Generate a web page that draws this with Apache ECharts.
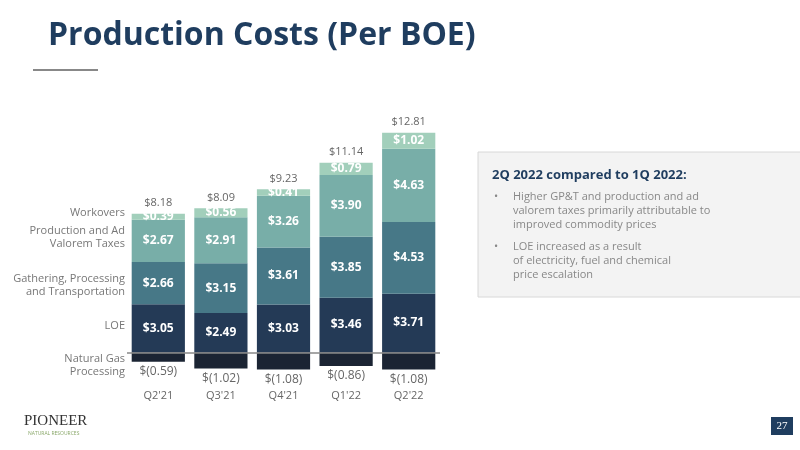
<!DOCTYPE html><html><head><meta charset="utf-8"><script src="https://cdn.jsdelivr.net/npm/echarts@6/dist/echarts.min.js"></script>
<style>html,body{margin:0;padding:0;background:#fff}#c{width:800px;height:450px}</style></head><body><div id="c"></div><script>
const categories=["Q2'21","Q3'21","Q4'21","Q1'22","Q2'22"];
const gasProc=[-0.59,-1.02,-1.08,-0.86,-1.08];
const loe=[3.05,2.49,3.03,3.46,3.71];
const gpt=[2.66,3.15,3.61,3.85,4.53];
const taxes=[2.67,2.91,3.26,3.90,4.63];
const workovers=[0.39,0.56,0.41,0.79,1.02];
const totals=["$8.18","$8.09","$9.23","$11.14","$12.81"];
const F='"Open Sans", sans-serif';
const inLbl={show:true,color:'#fff',fontFamily:F,fontWeight:'bold',fontSize:12,formatter:p=>'$'+p.value.toFixed(2)};
function s(name,data,color,label){return {name,type:'bar',stack:'a',data,barCategoryGap:'15%',itemStyle:{color},label,labelLayout:{hideOverlap:false},emphasis:{disabled:true}};}
const ch=echarts.init(document.getElementById('c'));
const series=[
 s('Natural Gas Processing',gasProc,'#1b2433',{show:true,position:'bottom',distance:4,color:'#666',fontFamily:F,fontSize:12,formatter:p=>'$('+Math.abs(p.value).toFixed(2)+')'}),
 s('LOE',loe,'#243a56',inLbl),
 s('Gathering',gpt,'#477887',inLbl),
 s('Taxes',taxes,'#78aea8',inLbl),
 s('Workovers',workovers,'#a2cfbb',Object.assign({},inLbl,{position:'inside'}))
];
series.push({type:'bar',stack:'a',data:workovers.map(()=>0),itemStyle:{color:'transparent'},
 label:{show:true,position:'top',distance:5,color:'#666',fontFamily:F,fontSize:11,formatter:p=>totals[p.dataIndex]}});
series[0].markLine={silent:true,symbol:'none',label:{show:false},lineStyle:{color:'#888',width:1.5,type:'solid'},data:[{yAxis:0}]};
const T=(t,x,y,o)=>({type:'text',x,y,style:Object.assign({text:t,fill:'#777',font:'11px '+F,lineHeight:13},o||{})});
const R={textAlign:'right'};
ch.setOption({animation:false,
 grid:{left:127,right:360,top:131,height:253},
 xAxis:{type:'category',data:categories,axisLine:{show:false},axisTick:{show:false},axisLabel:{color:'#666',fontFamily:F,fontSize:11,margin:6}},
 yAxis:{type:'value',min:-2,max:14,show:false},
 series,
 graphic:[
  T('Production Costs (Per BOE)',48,16,{fill:'#1f3d5f',font:'bold 32px '+F,lineHeight:40}),
  {type:'rect',shape:{x:33,y:69,width:65,height:2},style:{fill:'#888'}},
  T('Workovers',125,206,R),
  T('Production and Ad\nValorem Taxes',125,224,R),
  T('Gathering, Processing\nand Transportation',125,272,R),
  T('LOE',125,319,R),
  T('Natural Gas\nProcessing',125,352,R),
  {type:'rect',shape:{x:478,y:152,width:330,height:145},style:{fill:'#f3f3f3',stroke:'#d8d8d8',lineWidth:1}},
  T('2Q 2022 compared to 1Q 2022:',492,167,{fill:'#1f3d5f',font:'bold 13px '+F,lineHeight:16}),
  T('•',494,190,{fill:'#888'}),
  T('Higher GP&T and production and ad\nvalorem taxes primarily attributable to\nimproved commodity prices',513,190,{fill:'#888',lineHeight:14}),
  T('•',494,240,{fill:'#888'}),
  T('LOE increased as a result\nof electricity, fuel and chemical\nprice escalation',513,240,{fill:'#888',lineHeight:14}),
  T('PIONEER',24,413,{fill:'#333',font:'15px "Liberation Serif", serif',lineHeight:17}),
  T('NATURAL RESOURCES',28,431,{fill:'#8aa86a',font:'5px '+F,lineHeight:6}),
  {type:'rect',shape:{x:771,y:417,width:22,height:18},style:{fill:'#1f3d5f'}},
  T('27',782,420,{fill:'#fff',font:'11px "Liberation Serif", serif',textAlign:'center'})
 ]});
</script></body></html>
